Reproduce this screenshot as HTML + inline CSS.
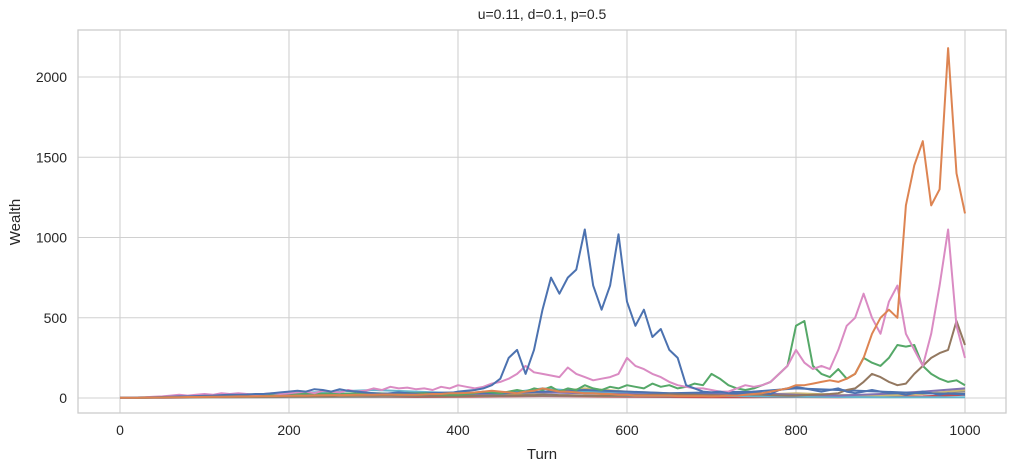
<!DOCTYPE html>
<html><head><meta charset="utf-8"><style>
body{margin:0;background:#fff;}
svg{display:block;font-family:"Liberation Sans",sans-serif;}
</style></head><body>
<svg id="c" width="1017" height="473"></svg>
<script>
const turns = Array.from({length:101},(_, i)=>i*10);
const blueVals = [1,2,3,4,5,6,8,10,10,12,14,15,18,20,20,22,25,25,30,35,
40,45,40,55,50,40,55,45,40,35,30,25,30,35,30,25,20,25,30,30,
40,45,50,60,80,120,250,300,150,300,550,750,650,750,800,1050,700,550,700,1020,
600,450,550,380,430,300,250,80,60,40,35,40,30,25,30,40,30,25,50,60,
70,60,50,40,50,60,40,30,40,50,40,30,30,20,30,40,30,20,30,25,20];
const orangeVals = [1,2,2,3,3,4,5,5,6,6,7,8,8,9,10,10,11,12,12,13,14,15,15,16,17,18,18,19,20,20,
20,22,22,20,20,20,22,25,25,30,30,32,35,40,45,40,35,30,40,45,60,50,40,40,35,30,30,25,25,20,
20,15,15,15,15,15,12,12,12,12,10,12,15,15,20,25,30,40,50,60,80,80,90,100,110,100,120,150,250,400,
500,550,500,1200,1450,1600,1200,1300,2180,1400,1150];
const pinkVals = [1,2,3,5,8,10,15,20,15,20,25,20,30,25,30,25,20,25,30,25,30,35,40,30,45,40,35,50,40,45,
60,50,70,60,65,55,60,50,70,60,80,70,60,70,90,100,120,150,200,160,150,140,130,190,150,130,110,120,130,150,
250,200,180,150,130,100,80,70,60,60,50,40,40,60,80,70,80,100,150,200,300,220,180,200,180,300,450,500,650,500,
400,600,700,400,300,200,400,700,1050,450,250];
const greenVals = [1,2,3,4,5,6,8,10,12,10,12,15,14,16,18,20,18,22,20,25,28,25,30,28,26,30,25,28,30,32,
30,28,25,30,32,28,30,25,22,20,20,25,30,40,35,30,40,50,40,60,50,70,40,60,50,80,60,50,70,60,80,70,60,90,70,80,60,70,90,80,
150,120,80,60,50,60,80,100,150,200,450,480,200,150,130,180,120,150,250,220,200,250,330,320,330,200,150,120,100,110,80];
const brownVals = [1,1,2,2,3,3,4,4,5,5,5,6,6,7,7,8,8,8,9,9,10,10,10,12,12,12,14,14,15,15,15,16,16,15,14,14,13,12,12,12,
12,12,13,14,15,15,16,16,18,18,20,20,18,18,16,15,14,14,15,15,16,18,18,20,20,22,22,20,20,18,18,16,16,18,20,22,20,18,16,15,
15,18,20,22,25,30,50,60,100,150,130,100,80,90,150,200,250,280,300,480,330];
const steps = Array.from({length:21},(_, i)=>i*50);
const purpleVals = [1,5,10,15,20,25,30,25,20,30,35,30,25,20,25,30,20,15,25,40,60];
const cyanVals = [1,5,15,20,30,40,50,40,30,25,60,40,30,20,15,10,8,6,5,5,5];
const oliveVals = [1,3,5,8,10,12,15,18,20,25,30,60,40,30,25,20,30,20,15,25,50];
const redVals = [1,2,4,6,8,10,8,6,8,10,12,10,8,6,5,5,6,5,8,10,20];
const greyVals = [1,2,3,4,5,6,8,10,12,14,15,14,12,10,15,20,18,15,20,30,40];
const blue2Vals = [1,3,6,10,15,20,25,30,35,30,40,50,40,30,35,40,60,50,40,30,25];
const yTicks = [0,500,1000,1500,2000];
const xTicks = [0,200,400,600,800,1000];

const NS='http://www.w3.org/2000/svg';
const svg=document.getElementById('c');
const L=78,R=1006,T=30,B=413;
const xs=t=>120+t*0.845;
const ys=v=>398-v*0.1605;
function mk(tag,attrs,parent){const e=document.createElementNS(NS,tag);for(const k in attrs)e.setAttribute(k,attrs[k]);(parent||svg).appendChild(e);return e;}
for(const v of yTicks){
  const g=mk('line',{x1:L,x2:R,y1:ys(v),y2:ys(v),stroke:'#d0d0d0','stroke-width':1.1});
  
  
  const t=mk('text',{x:L-11,y:ys(v)+5,'text-anchor':'end','font-size':14,fill:'#262626'});
  t.textContent=v;
  
  
}
for(const v of xTicks){
  const g=mk('line',{x1:xs(v),x2:xs(v),y1:T,y2:B,stroke:'#d0d0d0','stroke-width':1.1});
  
  
  const t=mk('text',{x:xs(v),y:B+22,'text-anchor':'middle','font-size':14,fill:'#262626'});
  t.textContent=v;
  
  
}
const fr=mk('rect',{x:L,y:T,width:R-L,height:B-T,fill:'none',stroke:'#cccccc','stroke-width':1.3});


function series(xsArr,vals,color,name){
  const d=vals.map((v,i)=>(i?'L':'M')+xs(xsArr[i]).toFixed(1)+','+ys(v).toFixed(1)).join('');
  const p=mk('path',{d:d,fill:'none',stroke:color,'stroke-width':2,'stroke-linejoin':'round'});
  
  
}
series(steps,redVals,'#c44e52','series-red');
series(steps,greyVals,'#8c8c8c','series-grey');
series(steps,oliveVals,'#ccb974','series-olive');
series(steps,cyanVals,'#64b5cd','series-cyan');
series(steps,purpleVals,'#8172b3','series-purple');
series(steps,blue2Vals,'#4c72b0','series-blue-2');
series(turns,brownVals,'#937860','series-brown');
series(turns,greenVals,'#55a868','series-green');
series(turns,pinkVals,'#da8bc3','series-pink');
series(turns,blueVals,'#4c72b0','series-blue');
series(turns,orangeVals,'#dd8452','series-orange');
const ti=mk('text',{x:542,y:19,'text-anchor':'middle','font-size':14,fill:'#262626'});
ti.textContent='u=0.11, d=0.1, p=0.5';


const xl=mk('text',{x:542,y:459,'text-anchor':'middle','font-size':15,fill:'#262626'});
xl.textContent='Turn';


const yl=mk('text',{x:20,y:222,'text-anchor':'middle','font-size':15,fill:'#262626',transform:'rotate(-90 20 222)'});
yl.textContent='Wealth';


</script>
</body></html>
